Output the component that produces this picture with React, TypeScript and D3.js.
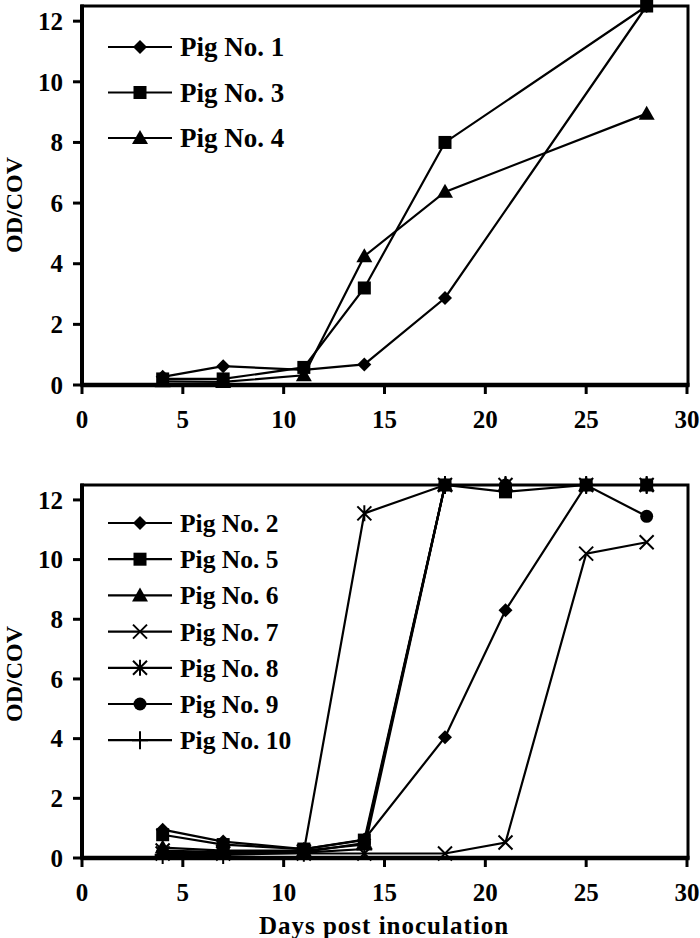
import React from "react";
import * as d3 from "d3";

const daysTop = [4, 7, 11, 14, 18, 28];
const pig1 = [0.27, 0.62, 0.5, 0.68, 2.87, 12.5];
const pig3 = [0.2, 0.2, 0.58, 3.2, 8.0, 12.5];
const pig4 = [0.12, 0.1, 0.32, 4.25, 6.37, 8.95];

const daysBottom = [4, 7, 11, 14, 18, 21, 25, 28];
const pig2 = [0.95, 0.55, 0.3, 0.62, 4.05, 8.3, 12.5, 12.5];
const pig5 = [0.78, 0.45, 0.3, 0.6, 12.5, 12.27, 12.5, 12.5];
const pig6 = [0.35, 0.25, 0.25, 0.45, 12.5, 12.5, 12.5, 12.5];
const pig7 = [0.15, 0.15, 0.15, 0.15, 0.15, 0.52, 10.2, 10.58];
const pig8 = [0.25, 0.2, 0.22, 11.55, 12.5, 12.5, 12.5, 12.5];
const pig9 = [0.2, 0.15, 0.2, 0.5, 12.5, 12.5, 12.5, 11.45];
const pig10 = [0.1, 0.1, 0.18, 0.3, 12.5, 12.5, 12.5, 12.5];

const xTicks = [0, 5, 10, 15, 20, 25, 30];
const yTicks = [0, 2, 4, 6, 8, 10, 12];

type Sym = "diamond" | "square" | "triangle" | "x" | "asterisk" | "circle" | "plus";

const topSeries = [
  { name: "Pig No. 1", sym: "diamond" as Sym, values: pig1 },
  { name: "Pig No. 3", sym: "square" as Sym, values: pig3 },
  { name: "Pig No. 4", sym: "triangle" as Sym, values: pig4 },
];
const bottomSeries = [
  { name: "Pig No. 2", sym: "diamond" as Sym, values: pig2 },
  { name: "Pig No. 5", sym: "square" as Sym, values: pig5 },
  { name: "Pig No. 6", sym: "triangle" as Sym, values: pig6 },
  { name: "Pig No. 7", sym: "x" as Sym, values: pig7 },
  { name: "Pig No. 8", sym: "asterisk" as Sym, values: pig8 },
  { name: "Pig No. 9", sym: "circle" as Sym, values: pig9 },
  { name: "Pig No. 10", sym: "plus" as Sym, values: pig10 },
];

const FONT = "'Liberation Serif', 'Times New Roman', serif";

function Marker({ sym, x, y }: { sym: Sym; x: number; y: number }) {
  const s = 7;
  switch (sym) {
    case "diamond":
      return <path d={`M${x},${y - s}L${x + s},${y}L${x},${y + s}L${x - s},${y}Z`} fill="#000" />;
    case "square":
      return <rect x={x - 6.5} y={y - 6.5} width={13} height={13} fill="#000" />;
    case "triangle":
      return <path d={`M${x},${y - 8}L${x + 8},${y + 6}L${x - 8},${y + 6}Z`} fill="#000" />;
    case "circle":
      return <circle cx={x} cy={y} r={6.5} fill="#000" />;
    case "x":
      return (
        <path d={`M${x - 7},${y - 7}L${x + 7},${y + 7}M${x - 7},${y + 7}L${x + 7},${y - 7}`} stroke="#000" strokeWidth={2} />
      );
    case "asterisk":
      return (
        <path
          d={`M${x - 7},${y - 7}L${x + 7},${y + 7}M${x - 7},${y + 7}L${x + 7},${y - 7}M${x},${y - 8}L${x},${y + 8}`}
          stroke="#000"
          strokeWidth={2}
        />
      );
    case "plus":
      return <path d={`M${x},${y - 9}L${x},${y + 9}M${x - 8},${y}L${x + 8},${y}`} stroke="#000" strokeWidth={2} />;
  }
  return null;
}

function Panel({
  days,
  series,
  top,
  bottom,
  legendY,
  legendStep,
  legendSize,
  titleY,
}: {
  days: number[];
  series: { name: string; sym: Sym; values: number[] }[];
  top: number;
  bottom: number;
  legendY: number;
  legendStep: number;
  legendSize: number;
  titleY: number;
}) {
  const left = 82;
  const right = 688;
  const x = d3.scaleLinear().domain([0, 30]).range([left, 687]);
  const y = d3.scaleLinear().domain([0, 12.5]).range([bottom, top]);
  const line = d3
    .line<number>()
    .x((_, i) => x(days[i]))
    .y((v) => y(v));
  const markerOrder = [...series].sort((a, b) => (a.sym === "square" ? 1 : 0) - (b.sym === "square" ? 1 : 0));
  return (
    <g>
      {series.map((s) => (
        <path key={s.name} d={line(s.values) || ""} fill="none" stroke="#000" strokeWidth={2.2} />
      ))}
      <rect x={left} y={top} width={right - left} height={bottom - top} fill="none" stroke="#000" strokeWidth={3} />
      <line x1={left - 1.5} x2={right + 1.5} y1={bottom} y2={bottom} stroke="#000" strokeWidth={4.5} />
      <line x1={left} x2={left} y1={top - 1.5} y2={bottom} stroke="#000" strokeWidth={4} />
      {markerOrder.map((s) => (
        <g key={s.name + "m"}>
          {s.values.map((v, i) => (
            <Marker key={i} sym={s.sym} x={x(days[i])} y={y(v)} />
          ))}
        </g>
      ))}
      {yTicks.map((t) => (
        <g key={"y" + t}>
          <line x1={left - 9} x2={left} y1={y(t)} y2={y(t)} stroke="#000" strokeWidth={3} />
          <text
            x={63}
            y={y(t)}
            dy="0.35em"
            textAnchor="end"
            fontFamily={FONT}
            fontWeight="bold"
            fontSize={25}
          >
            {t}
          </text>
        </g>
      ))}
      {xTicks.map((t) => (
        <g key={"x" + t}>
          <line x1={x(t)} x2={x(t)} y1={bottom} y2={bottom + 9} stroke="#000" strokeWidth={3} />
          <text
            x={x(t)}
            y={bottom + 34}
            dy="0.35em"
            textAnchor="middle"
            fontFamily={FONT}
            fontWeight="bold"
            fontSize={25}
          >
            {t}
          </text>
        </g>
      ))}
      <text
        transform={`translate(22,${titleY}) rotate(-90)`}
        textAnchor="middle"
        fontFamily={FONT}
        fontWeight="bold"
        fontSize={24}
      >
        OD/COV
      </text>
      {series.map((s, i) => {
        const ly = legendY + i * legendStep;
        return (
          <g key={s.name + "l"}>
            <line x1={108} x2={172} y1={ly} y2={ly} stroke="#000" strokeWidth={2.2} />
            <Marker sym={s.sym} x={140} y={ly} />
            <text x={180} y={ly} dy="0.35em" fontFamily={FONT} fontWeight="bold" fontSize={legendSize}>
              {s.name}
            </text>
          </g>
        );
      })}
    </g>
  );
}

export default function App() {
  return (
    <svg width={700} height={938} style={{ position: "absolute", left: 0, top: 0, background: "#fff" }}>
      <rect width={700} height={938} fill="#fff" />
      <Panel days={daysTop} series={topSeries} top={6} bottom={385} legendY={47} legendStep={45.5} legendSize={27} titleY={205} />
      <Panel days={daysBottom} series={bottomSeries} top={485} bottom={858} legendY={523} legendStep={36.2} legendSize={25.5} titleY={674} />
      <text x={384} y={925} dy="0.35em" textAnchor="middle" fontFamily={FONT} fontWeight="bold" fontSize={25} letterSpacing={1}>
        Days post inoculation
      </text>
    </svg>
  );
}
